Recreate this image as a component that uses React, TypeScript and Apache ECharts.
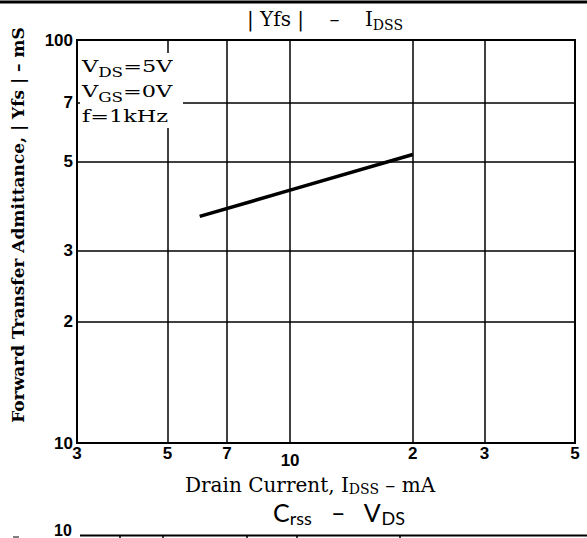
import React, { useEffect, useRef } from "react";
import * as echarts from "echarts";

// Data
const idss = [6, 10, 20]; // mA
const yfs = [36.5, 42.4, 52]; // mS

// Axis ticks
const xTicks = [3, 5, 7, 10, 20, 30, 50];
const xTickLabels = ["3", "5", "7", "10", "2", "3", "5"];
const yTicks = [10, 20, 30, 50, 70, 100];
const yTickLabels = ["10", "2", "3", "5", "7", "100"];
const xGrid = [5, 7, 10, 20, 30];
const yGrid = [20, 30, 50, 70];

const nearestIdx = (arr: number[], v: number) =>
  arr.findIndex((t) => Math.abs(t - v) / t < 1e-4);

const SERIF = "'DejaVu Serif', 'Liberation Serif', serif";
const SANS = "'Liberation Sans', 'DejaVu Sans', sans-serif";

export default function App() {
  const ref = useRef<HTMLDivElement>(null);
  useEffect(() => {
    document.body.style.margin = "0";
    const chart = echarts.init(ref.current!, null, { renderer: "svg" });
    const subRich = {
      sub: { fontSize: 14, lineHeight: 14, verticalAlign: "bottom", fontFamily: SERIF, fill: "#000" },
    };
    const boxRich = {
      sub: { fontSize: 12, lineHeight: 12, verticalAlign: "bottom", fontFamily: SERIF, fill: "#000" },
    };
    chart.setOption({
      animation: false,
      backgroundColor: "#fff",
      grid: {
        left: 77,
        right: 12,
        top: 40,
        bottom: 95,
        show: true,
        borderColor: "#000",
        borderWidth: 2,
        backgroundColor: "transparent",
      },
      xAxis: {
        type: "log",
        logBase: 10,
        min: 3,
        max: 50,
        axisLine: { show: true, lineStyle: { color: "#000", width: 2 } },
        axisTick: { show: false, customValues: xTicks },
        splitLine: { show: false },
        minorSplitLine: { show: false },
        axisLabel: {
          customValues: xTicks,
          color: "#000",
          fontFamily: SANS,
          fontWeight: "bold",
          fontSize: 17,
          margin: 2,
          formatter: (v: number) => {
            const i = nearestIdx(xTicks, v);
            if (i < 0) return "";
            const t = xTickLabels[i];
            return xTicks[i] === 10 ? "{lo|" + t + "}" : t;
          },
          rich: {
            lo: { fontFamily: SANS, fontWeight: "bold", fontSize: 17, lineHeight: 17, color: "#000", padding: [13, 0, 0, 0] },
          },
        },
      },
      yAxis: {
        type: "log",
        logBase: 10,
        min: 10,
        max: 100,
        axisLine: { show: true, lineStyle: { color: "#000", width: 2 } },
        axisTick: { show: false, customValues: yTicks },
        splitLine: { show: false },
        minorSplitLine: { show: false },
        axisLabel: {
          customValues: yTicks,
          color: "#000",
          fontFamily: SANS,
          fontWeight: "bold",
          fontSize: 17,
          margin: 4,
          formatter: (v: number) => {
            const i = nearestIdx(yTicks, v);
            return i < 0 ? "" : yTickLabels[i];
          },
        },
      },
      series: [
        {
          type: "line",
          data: idss.map((x, i) => [x, yfs[i]]),
          symbol: "none",
          showSymbol: false,
          lineStyle: { color: "#000", width: 3.5 },
          z: 3,
          markLine: {
            silent: true,
            symbol: ["none", "none"],
            label: { show: false },
            lineStyle: { color: "#000", width: 1.5, type: "solid" },
            data: [
              ...xGrid.map((v) => ({ xAxis: v })),
              ...yGrid.map((v) => ({ yAxis: v })),
            ],
          },
        },
      ],
      graphic: [
        // top border line
        { type: "line", z: 100, shape: { x1: 0, y1: 2, x2: 587, y2: 2 }, style: { stroke: "#000", lineWidth: 3 } },
        // title
        {
          type: "text",
          z: 100,
          x: 247,
          y: 5,
          style: {
            text: "| Yfs |    –    I{sub|DSS}",
            fontFamily: SERIF,
            fontSize: 20,
            lineHeight: 27,
            fill: "#000",
            rich: subRich,
          },
        },
        // condition box
        { type: "rect", z: 100, shape: { x: 80, y: 53, width: 103, height: 75 }, style: { fill: "#fff" } },
        {
          type: "text",
          z: 101,
          x: 82,
          y: 56,
          scaleX: 1.4,
          style: { text: "V{sub|DS}=5V", fontFamily: SERIF, fontSize: 16, lineHeight: 22, fill: "#000", rich: boxRich },
        },
        {
          type: "text",
          z: 101,
          x: 82,
          y: 81,
          scaleX: 1.4,
          style: { text: "V{sub|GS}=0V", fontFamily: SERIF, fontSize: 16, lineHeight: 22, fill: "#000", rich: boxRich },
        },
        {
          type: "text",
          z: 101,
          x: 82,
          y: 106,
          scaleX: 1.4,
          style: { text: "f=1kHz", fontFamily: SERIF, fontSize: 16, lineHeight: 22, fill: "#000" },
        },
        // x axis name
        {
          type: "text",
          z: 100,
          x: 185,
          y: 474,
          style: {
            text: "Drain Current, I{sub|DSS} – mA",
            fontFamily: SERIF,
            fontSize: 20,
            lineHeight: 22,
            fill: "#000",
            rich: subRich,
          },
        },
        // y axis name
        {
          type: "text",
          z: 100,
          x: 18,
          y: 225,
          rotation: Math.PI / 2,
          style: {
            text: "Forward Transfer Admittance, | Yfs | – mS",
            fontFamily: SERIF,
            fontWeight: "bold",
            fontSize: 17,
            fill: "#000",
            align: "center",
            verticalAlign: "middle",
          },
        },
        // next chart fragment
        {
          type: "text",
          z: 100,
          x: 273,
          y: 496,
          style: {
            text: "C{s|rss}   –   V{s|DS}",
            fontFamily: "Lato, 'Open Sans', sans-serif",
            fontSize: 25,
            lineHeight: 31,
            fill: "#000",
            rich: { s: { fontSize: 18, lineHeight: 18, verticalAlign: "bottom", fontFamily: "Lato, 'Open Sans', sans-serif", fill: "#000" } },
          },
        },
        {
          type: "text",
          z: 100,
          x: 54,
          y: 522,
          style: { text: "10", fontFamily: SANS, fontWeight: "bold", fontSize: 16, fill: "#000" },
        },
        { type: "line", z: 100, shape: { x1: 80, y1: 535.5, x2: 587, y2: 535.5 }, style: { stroke: "#000", lineWidth: 2 } },
        ...[120, 163, 247, 297, 400].map((x) => ({
          type: "line",
          z: 100,
          shape: { x1: x, y1: 535, x2: x, y2: 538 },
          style: { stroke: "#000", lineWidth: 1.5 },
        })),
        { type: "line", z: 100, shape: { x1: 13, y1: 537, x2: 19, y2: 537 }, style: { stroke: "#000", lineWidth: 1 } },
      ],
    });
    return () => chart.dispose();
  }, []);
  return <div ref={ref} style={{ width: 587, height: 538, background: "#fff" }} />;
}
